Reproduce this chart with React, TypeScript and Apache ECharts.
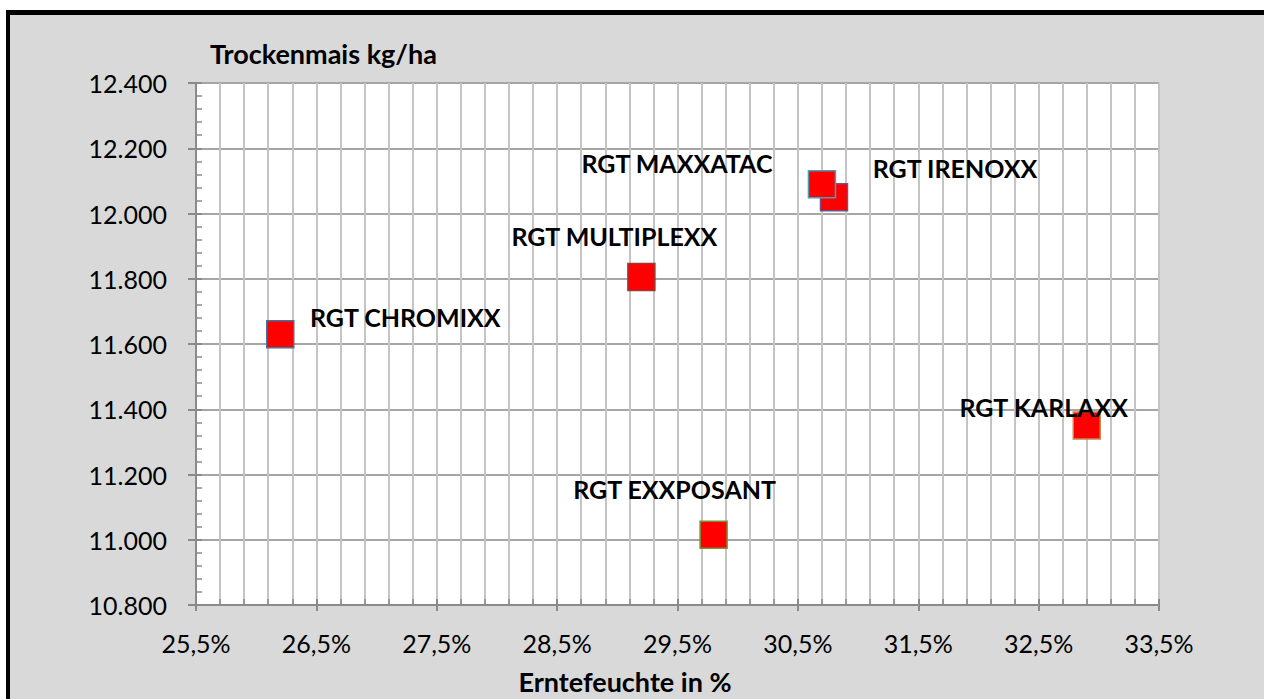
import React, { useEffect, useRef } from "react";
import * as echarts from "echarts";

// ---- data ----
const varieties = [
  "RGT CHROMIXX",
  "RGT MULTIPLEXX",
  "RGT EXXPOSANT",
  "RGT IRENOXX",
  "RGT MAXXATAC",
  "RGT KARLAXX",
];
const moisturePct = [26.2, 29.2, 29.8, 30.8, 30.7, 32.9];
const yieldKgHa = [11630, 11805, 11015, 12050, 12090, 11350];

const xMinPct = 25.5;
const xMaxPct = 33.5;
const xStepPct = 1;
const yMin = 10800;
const yMax = 12400;
const yStep = 200;

const yTitle = "Trockenmais kg/ha";
const xTitle = "Erntefeuchte in %";

// ---- styles (not data) ----
const borderColors = ["#41719C", "#9B3A37", "#77933C", "#6B5588", "#4A9DB5", "#C98850"];
const labelOffsets: [number, number][] = [
  [125, -17],
  [-27, -41],
  [-39, -46],
  [121, -29],
  [-145, -21],
  [-43, -19],
];

const FONT = "Lato";

const fmtY = (v: number) => String(Math.round(v)).replace(/\B(?=(\d{3})+(?!\d))/g, ".");
const fmtX = (v: number) => (v + xMinPct).toFixed(1).replace(".", ",") + "%";

export default function App() {
  const ref = useRef<HTMLDivElement>(null);

  useEffect(() => {
    document.body.style.margin = "0";
    document.body.style.overflow = "hidden";
    document.documentElement.style.overflow = "hidden";
    if (!ref.current) return;
    const chart = echarts.init(ref.current, null, { renderer: "svg" });

    const data = varieties.map((name, i) => ({
      name,
      value: [moisturePct[i] - xMinPct, yieldKgHa[i]],
      itemStyle: { color: "#FF0000", borderColor: borderColors[i], borderWidth: 1.5, opacity: 1 },
      label: { offset: labelOffsets[i] },
    }));

    const gridLineV = { color: "#C4C4C4", width: 2 };
    const axisCol = "#8A8A8A";

    chart.setOption({
      animation: false,
      backgroundColor: "transparent",
      graphic: [
        {
          type: "rect",
          silent: true,
          z: -100,
          shape: { x: 0, y: 0, width: 8, height: 699 },
          style: { fill: "#FFFFFF" },
        },
        {
          type: "rect",
          silent: true,
          z: -100,
          shape: { x: 6, y: 10, width: 4, height: 689 },
          style: { fill: "#000000" },
        },
        {
          type: "rect",
          silent: true,
          z: -100,
          shape: { x: 6, y: 10, width: 1258, height: 5 },
          style: { fill: "#000000" },
        },
        {
          type: "text",
          x: 210,
          y: 53,
          style: {
            text: yTitle,
            font: `bold 27px ${FONT}`,
            fill: "#000",
            align: "left",
            verticalAlign: "middle",
          },
        },
        {
          type: "text",
          x: 625,
          y: 681,
          style: {
            text: xTitle,
            font: `bold 27px ${FONT}`,
            fill: "#000",
            align: "center",
            verticalAlign: "middle",
          },
        },
      ],
      grid: {
        left: 196,
        top: 83,
        right: 105,
        bottom: 94,
        show: true,
        backgroundColor: "#FFFFFF",
        borderWidth: 0,
      },
      xAxis: [
        {
          type: "value",
          min: 0,
          max: xMaxPct - xMinPct,
          interval: xStepPct,
          axisLine: { show: true, onZero: false, lineStyle: { color: axisCol, width: 2 } },
          axisTick: { show: true, inside: true, length: 6, lineStyle: { color: axisCol, width: 2 } },
          minorTick: { show: true, splitNumber: 5, length: 6, lineStyle: { color: axisCol, width: 1.5 } },
          splitLine: { show: true, lineStyle: gridLineV },
          minorSplitLine: { show: true, lineStyle: gridLineV },
          axisLabel: {
            formatter: fmtX,
            fontSize: 25,
            fontFamily: FONT,
            color: "#000",
            margin: 25,
          },
        },
        {
          type: "value",
          position: "bottom",
          min: 0,
          max: xMaxPct - xMinPct,
          interval: xStepPct,
          axisLine: { show: false, onZero: false },
          axisTick: { show: true, inside: false, length: 6, lineStyle: { color: axisCol, width: 2 } },
          axisLabel: { show: false },
          splitLine: { show: false },
        },
      ],
      yAxis: [
        {
          type: "value",
          min: yMin,
          max: yMax,
          interval: yStep,
          axisLine: { show: true, onZero: false, lineStyle: { color: axisCol, width: 2 } },
          axisTick: { show: true, inside: true, length: 6, lineStyle: { color: axisCol, width: 2 } },
          minorTick: { show: true, splitNumber: 5, length: 6, lineStyle: { color: axisCol, width: 1.5 } },
          splitLine: { show: true, lineStyle: { color: "#A6A6A6", width: 2 } },
          axisLabel: {
            formatter: fmtY,
            fontSize: 25,
            fontFamily: FONT,
            color: "#000",
            margin: 29,
          },
        },
        {
          type: "value",
          position: "left",
          min: yMin,
          max: yMax,
          interval: yStep,
          axisLine: { show: false, onZero: false },
          axisTick: { show: true, inside: false, length: 8, lineStyle: { color: axisCol, width: 2 } },
          axisLabel: { show: false },
          splitLine: { show: false },
        },
      ],
      series: [
        {
          type: "scatter",
          xAxisIndex: 0,
          yAxisIndex: 0,
          symbol: "rect",
          symbolSize: 27,
          itemStyle: { opacity: 1 },
          data,
          label: {
            show: true,
            position: "inside",
            formatter: "{b}",
            fontSize: 25,
            fontWeight: "bold",
            fontFamily: FONT,
            color: "#000",
            opacity: 1,
          },
        },
      ],
    });

    return () => chart.dispose();
  }, []);

  return (
    <div
      ref={ref}
      style={{ width: 1264, height: 699, background: "linear-gradient(#FFFFFF 0 10px, #D9D9D9 10px)" }}
    />
  );
}
